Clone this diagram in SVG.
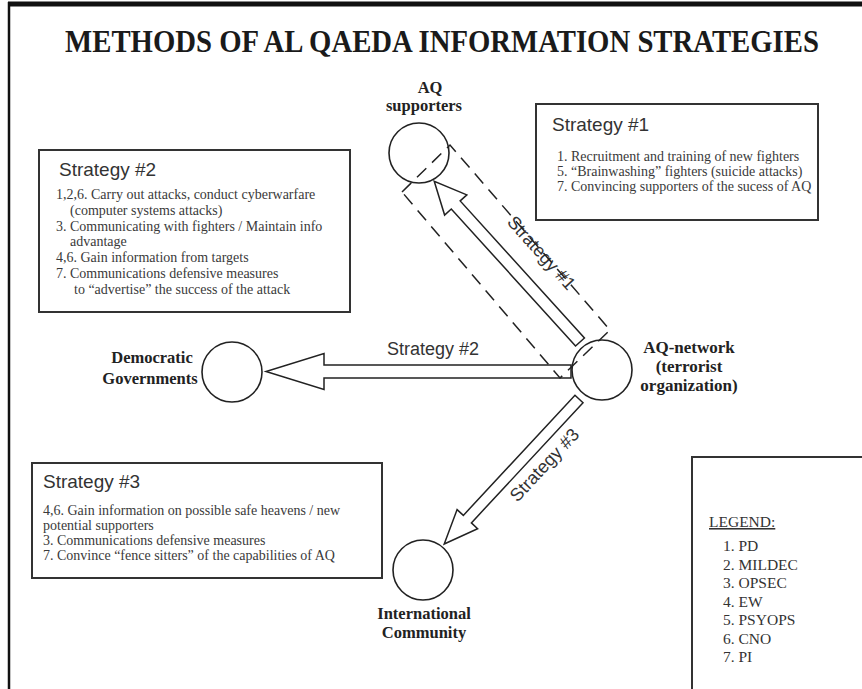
<svg xmlns="http://www.w3.org/2000/svg" width="862" height="689" viewBox="0 0 862 689">
<style>
.title{font-family:"Liberation Serif",serif;font-weight:bold;font-size:32px;fill:#1a1a1a;text-anchor:middle}
.node{font-family:"Liberation Serif",serif;font-weight:bold;font-size:16.5px;fill:#222;text-anchor:middle}
.circ{fill:none;stroke:#222;stroke-width:1.6}
.box{fill:#fff;stroke:#333;stroke-width:2}
.bh{font-family:"Liberation Sans",Arial,sans-serif;font-size:19px;fill:#333}
.bt{font-family:"Liberation Serif",serif;font-size:14px;fill:#3a3a3a}
.lg{font-family:"Liberation Serif",serif;font-size:15.5px;fill:#333}
.arr{fill:#fff;stroke:#222;stroke-width:1.5;stroke-linejoin:miter}
.al{font-family:"Liberation Sans",Arial,sans-serif;font-size:18px;fill:#333}
.dash{fill:none;stroke:#222;stroke-width:1.5;stroke-dasharray:13 8}
</style>
<rect width="862" height="689" fill="#fff"/>
<g id="frame">
<line x1="8" y1="4" x2="862" y2="4" stroke="#111" stroke-width="5"/>
<line x1="9" y1="2" x2="9" y2="689" stroke="#111" stroke-width="2.5"/>
</g>
<text class="title" transform="translate(442,52) scale(0.898,1)">METHODS OF AL QAEDA INFORMATION STRATEGIES</text>

<g id="box-strategy1">
<rect class="box" x="536" y="104" width="282" height="116"/>
<text class="bh" x="552" y="131">Strategy #1</text>
<text class="bt" x="557" y="161">1. Recruitment and training of new fighters</text>
<text class="bt" x="557" y="176">5. “Brainwashing” fighters (suicide attacks)</text>
<text class="bt" x="557" y="191">7. Convincing supporters of the sucess of AQ</text>
</g>

<g id="box-strategy2">
<rect class="box" x="39" y="150" width="311" height="162"/>
<text class="bh" x="59" y="176">Strategy #2</text>
<text class="bt" x="56" y="199">1,2,6. Carry out attacks, conduct cyberwarfare</text>
<text class="bt" x="70" y="215">(computer systems attacks)</text>
<text class="bt" x="56" y="231">3. Communicating with fighters / Maintain info</text>
<text class="bt" x="70" y="246">advantage</text>
<text class="bt" x="56" y="262">4,6. Gain information from targets</text>
<text class="bt" x="56" y="278">7. Communications defensive measures</text>
<text class="bt" x="74" y="294">to “advertise” the success of the attack</text>
</g>

<g id="box-strategy3">
<rect class="box" x="32" y="463" width="350" height="115"/>
<text class="bh" x="43" y="488">Strategy #3</text>
<text class="bt" x="43" y="515">4,6. Gain information on possible safe heavens / new</text>
<text class="bt" x="43" y="530">potential supporters</text>
<text class="bt" x="43" y="545">3. Communications defensive measures</text>
<text class="bt" x="43" y="560">7. Convince “fence sitters” of the capabilities of AQ</text>
</g>

<g id="legend">
<rect class="box" x="692" y="457" width="200" height="260"/>
<text class="lg" x="709" y="527" text-decoration="underline">LEGEND:</text>
<text class="lg" x="723" y="551">1. PD</text>
<text class="lg" x="723" y="569.5">2. MILDEC</text>
<text class="lg" x="723" y="588">3. OPSEC</text>
<text class="lg" x="723" y="606.5">4. EW</text>
<text class="lg" x="723" y="625">5. PSYOPS</text>
<text class="lg" x="723" y="643.5">6. CNO</text>
<text class="lg" x="723" y="662">7. PI</text>
</g>

<g id="node-aq-supporters">
<circle class="circ" cx="419" cy="153" r="30"/>
<text class="node" x="430" y="93">AQ</text>
<text class="node" x="424" y="111">supporters</text>
</g>

<g id="node-aq-network">
<circle class="circ" cx="602" cy="370" r="30"/>
<text class="node" x="689" y="353" style="font-size:17px">AQ-network</text>
<text class="node" x="689" y="372" style="font-size:17px">(terrorist</text>
<text class="node" x="689" y="391" style="font-size:17px">organization)</text>
</g>

<g id="node-democratic-governments">
<circle class="circ" cx="232" cy="372" r="30"/>
<text class="node" x="152" y="363">Democratic</text>
<text class="node" x="150" y="384">Governments</text>
</g>

<g id="node-international-community">
<circle class="circ" cx="423" cy="570" r="30"/>
<text class="node" x="424" y="619">International</text>
<text class="node" x="424" y="638">Community</text>
</g>

<g id="connectors">
<g transform="translate(571,371.5) rotate(180)">
<polygon class="arr" points="0,-6.5 247,-6.5 247,-18 305,0 247,18 247,6.5 0,6.5"/>
</g>
<text class="al" x="433" y="355" text-anchor="middle">Strategy #2</text>

<g transform="translate(580,342) rotate(-132.2)">
<polygon class="arr" points="0,-6 185,-6 185,-15 217,0 185,15 185,6 0,6"/>
</g>
<text class="al" text-anchor="middle" transform="translate(537,257) rotate(48)">Strategy #1</text>

<g transform="translate(579,399) rotate(132.9)">
<polygon class="arr" points="0,-5.5 164,-5.5 164,-14 198,0 164,14 164,5.5 0,5.5"/>
</g>
<text class="al" text-anchor="middle" transform="translate(549,469) rotate(-47)">Strategy #3</text>

<polygon class="dash" points="402,192 450,145 610,330 560,378"/>
</g>
</svg>
